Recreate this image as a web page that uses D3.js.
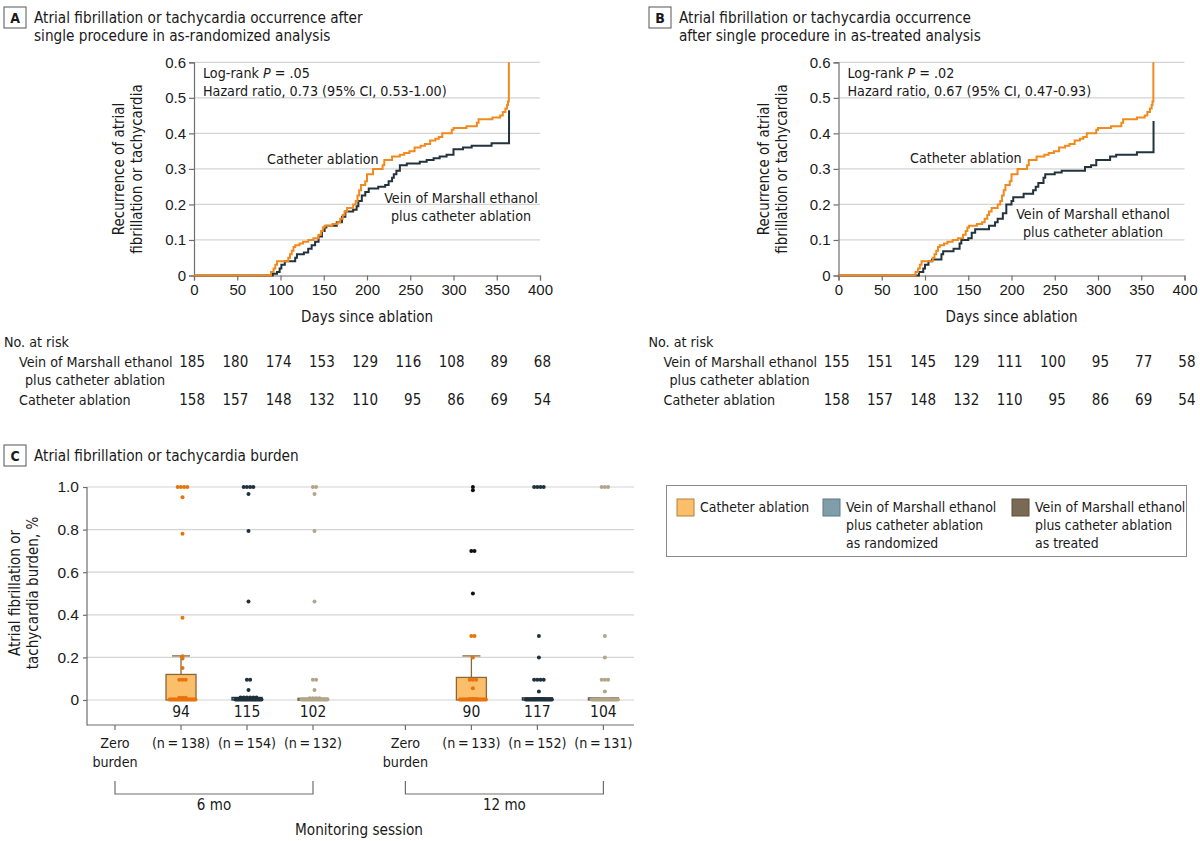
<!DOCTYPE html>
<html><head><meta charset="utf-8">
<script src="https://cdn.jsdelivr.net/npm/d3@7"></script>
<style>
html,body{margin:0;padding:0;background:#fff;}
svg{display:block;font-family:"DejaVu Sans Condensed","Liberation Sans Narrow","Noto Sans",sans-serif;fill:#1a1a1a;}
</style></head>
<body>
<svg id="chart" width="1200" height="841"></svg>
<script>
// ---------------- DATA ----------------
const kmTicksX = [0,50,100,150,200,250,300,350,400];
const kmTicksY = [0,0.1,0.2,0.3,0.4,0.5,0.6];
const riskDays = [0,50,100,150,200,250,300,350,400];

// step points [day, cumulative incidence]
const cathSteps = [[0,0],[89,0.01],[92,0.02],[94,0.03],[96,0.04],[109,0.05],[111,0.06],[113,0.07],[115,0.08],[117,0.085],[122,0.09],[126,0.095],[132,0.1],[138,0.105],[144,0.115],[147,0.125],[149,0.135],[151,0.14],[160,0.145],[166,0.15],[169,0.16],[172,0.17],[174,0.18],[177,0.19],[184,0.2],[187,0.21],[189,0.225],[191,0.24],[193,0.255],[198,0.265],[200,0.285],[207,0.3],[218,0.31],[220,0.325],[229,0.335],[238,0.34],[243,0.345],[249,0.35],[255,0.36],[262,0.365],[267,0.37],[273,0.38],[279,0.385],[283,0.39],[287,0.4],[298,0.41],[300,0.415],[315,0.42],[327,0.43],[329,0.44],[345,0.445],[354,0.45],[357,0.46],[360,0.47],[362,0.48],[363,0.49],[364,0.6]];
const vomRandSteps = [[0,0],[91,0.005],[96,0.01],[99,0.02],[101,0.03],[105,0.04],[117,0.05],[119,0.06],[127,0.065],[132,0.075],[136,0.085],[140,0.095],[144,0.11],[148,0.125],[151,0.135],[153,0.14],[165,0.15],[171,0.165],[175,0.18],[184,0.185],[188,0.195],[190,0.21],[194,0.225],[198,0.235],[202,0.245],[213,0.25],[221,0.255],[225,0.265],[229,0.275],[231,0.285],[234,0.295],[238,0.31],[246,0.315],[261,0.32],[269,0.325],[277,0.33],[284,0.335],[292,0.34],[300,0.355],[311,0.36],[321,0.365],[344,0.372],[364,0.372],[364.2,0.465]];
const vomTreatSteps = [[0,0],[93,0.01],[98,0.02],[100,0.03],[104,0.04],[108,0.045],[119,0.06],[121,0.068],[133,0.075],[140,0.09],[142,0.1],[150,0.105],[154,0.12],[158,0.13],[174,0.14],[181,0.15],[184,0.16],[190,0.175],[194,0.2],[200,0.21],[202,0.22],[214,0.23],[225,0.24],[228,0.25],[231,0.26],[237,0.275],[239,0.285],[250,0.29],[258,0.295],[285,0.305],[292,0.31],[298,0.325],[314,0.335],[321,0.34],[345,0.347],[364,0.347],[364.2,0.435]];

const riskA_vom = [185,180,174,153,129,116,108,89,68];
const riskA_cath = [158,157,148,132,110,95,86,69,54];
const riskB_vom = [155,151,145,129,111,100,95,77,58];
const riskB_cath = [158,157,148,132,110,95,86,69,54];

// Panel C
const burdenTicks = [0,0.2,0.4,0.6,0.8,1.0];
const burdenTickLabels = ["0","0.2","0.4","0.6","0.8","1.0"];
const catLabels = ["Zero|burden","(n\u2009=\u2009138)","(n\u2009=\u2009154)","(n\u2009=\u2009132)","Zero|burden","(n\u2009=\u2009133)","(n\u2009=\u2009152)","(n\u2009=\u2009131)"];
const catSlots = [0,1,2,3,4.4,5.4,6.4,7.4];
const zeroCounts = [null,"94","115","102",null,"90","117","104"];
// [value, number of dots]
const cath6 = [[1.0,4],[0.952,1],[0.78,1],[0.386,1],[0.205,1],[0.195,1],[0.15,1],[0.095,3],[0.01,3],[0,22]];
const vomr6 = [[1.0,4],[0.967,1],[0.794,1],[0.463,1],[0.095,2],[0.047,1],[0.012,6],[0,22]];
const vomt6 = [[1.0,2],[0.967,1],[0.794,1],[0.463,1],[0.095,2],[0.047,1],[0.008,4],[0,22]];
const cath12 = [[0.3,2],[0.2,1],[0.095,3],[0.055,1],[0.005,3],[0,22]];
const cath12dark = [[1.0,1],[0.985,1],[0.7,2],[0.5,1]];
const vomr12 = [[1.0,4],[0.3,1],[0.2,1],[0.095,4],[0.04,1],[0.005,4],[0,22]];
const vomt12 = [[1.0,3],[0.3,1],[0.2,1],[0.095,3],[0.04,1],[0.005,3],[0,22]];
// box summaries: category index, q1, median, q3, upper whisker
const boxStats = [
  {c:1,q1:0,med:0,q3:0.12,hi:0.207,k:"cath"},
  {c:2,q1:0,med:0,q3:0.012,hi:null,k:"vomr"},
  {c:3,q1:0,med:0,q3:0.008,hi:null,k:"vomt"},
  {c:5,q1:0,med:0,q3:0.106,hi:0.207,k:"cath"},
  {c:6,q1:0,med:0,q3:0.01,hi:null,k:"vomr"},
  {c:7,q1:0,med:0,q3:0.01,hi:null,k:"vomt"}
];
const legendItems = [
  {k:"cath", lines:["Catheter ablation"]},
  {k:"vomr", lines:["Vein of Marshall ethanol","plus catheter ablation","as randomized"]},
  {k:"vomt", lines:["Vein of Marshall ethanol","plus catheter ablation","as treated"]}
];

// ---------------- STYLE ----------------
const C = {
  orange:"#f08a1d", dark:"#22333e", grid:"#d4d4d4", axis:"#6e6e6e",
  boxFill:{cath:"#fbbe69",vomr:"#7f9ea9",vomt:"#b6a88c"},
  boxStroke:{cath:"#8a6838",vomr:"#22333e",vomt:"#6f624e"},
  dot:{cath:"#e8730c",vomr:"#1e313d",vomt:"#b3a589",darkCath:"#111111"},
  swatch:{cath:"#fbbe69",vomr:"#7f9ea9",vomt:"#7a6a55"},
  swStroke:{cath:"#b08040",vomr:"#5d7a85",vomt:"#5c4f3d"}
};
const FS = {title:15.2, text:14.2, tick:15, axisTitle:15, cat:14.2, legend:13.9};
const svg = d3.select("#chart");

function panelTitle(x, y, letter, lines){
  svg.append("rect").attr("x",x).attr("y",y).attr("width",22).attr("height",21)
    .attr("fill","#fff").attr("stroke","#555").attr("stroke-width",1);
  svg.append("text").attr("x",x+11).attr("y",y+16).attr("text-anchor","middle")
    .attr("font-size",14).attr("font-weight","bold").text(letter);
  lines.forEach((t,i)=>svg.append("text").attr("x",x+30).attr("y",y+15.5+i*18.5)
    .attr("font-size",FS.title).text(t));
}

function kmPanel(opt){
  const x = d3.scaleLinear().domain([0,400]).range([opt.x0, opt.x0+346]);
  const y = d3.scaleLinear().domain([0,0.6]).range([275.5, 62.3]);
  const g = svg.append("g");
  // grid
  g.selectAll(".gr").data(kmTicksY.filter(d=>d>0)).join("line")
    .attr("x1",x(0)).attr("x2",x(400)).attr("y1",d=>y(d)).attr("y2",d=>y(d))
    .attr("stroke",C.grid).attr("stroke-width",1.2);
  // axes
  const ax = g.append("g").attr("transform",`translate(0,${y(0)})`)
    .call(d3.axisBottom(x).tickValues(kmTicksX).tickSize(5).tickPadding(4).tickFormat(d3.format("d")));
  const ay = g.append("g").attr("transform",`translate(${x(0)},0)`)
    .call(d3.axisLeft(y).tickValues(kmTicksY).tickSize(5).tickPadding(3).tickFormat(d=>d===0?"0":d3.format(".1f")(d)));
  [ax,ay].forEach(a=>{
    a.select(".domain").attr("stroke",C.axis).attr("stroke-width",1.2);
    a.selectAll(".tick line").attr("stroke",C.axis).attr("stroke-width",1.2);
    a.selectAll(".tick text").attr("font-size",FS.tick).attr("fill","#1a1a1a").attr("font-family",null);
  });
  // curves
  const line = d3.line().x(d=>x(d[0])).y(d=>y(d[1])).curve(d3.curveStepAfter);
  g.append("path").datum(opt.vom).attr("d",line).attr("fill","none").attr("stroke",C.dark).attr("stroke-width",2);
  g.append("path").datum(cathSteps).attr("d",line).attr("fill","none").attr("stroke",C.orange).attr("stroke-width",2);
  // annotations
  const t1 = g.append("text").attr("x",x(0)+9).attr("y",78).attr("font-size",FS.text);
  t1.append("tspan").text("Log-rank ");
  t1.append("tspan").attr("font-style","italic").text("P");
  t1.append("tspan").text(" = "+opt.p);
  g.append("text").attr("x",x(0)+9).attr("y",96).attr("font-size",FS.text).text(opt.hr);
  g.append("text").attr("x",opt.cathLbl[0]).attr("y",opt.cathLbl[1]).attr("font-size",FS.text).text("Catheter ablation");
  g.append("text").attr("x",opt.vomLbl[0]).attr("y",opt.vomLbl[1]).attr("font-size",FS.text).attr("text-anchor","middle").text("Vein of Marshall ethanol");
  g.append("text").attr("x",opt.vomLbl[0]).attr("y",opt.vomLbl[1]+18).attr("font-size",FS.text).attr("text-anchor","middle").text("plus catheter ablation");
  // y label
  const yl = g.append("text").attr("transform",`translate(${x(0)-70},169) rotate(-90)`).attr("text-anchor","middle").attr("font-size",FS.axisTitle);
  yl.append("tspan").attr("x",0).attr("y",0).text("Recurrence of atrial");
  yl.append("tspan").attr("x",0).attr("y",18).text("fibrillation or tachycardia");
  g.append("text").attr("x",x(200)).attr("y",322).attr("text-anchor","middle").attr("font-size",FS.axisTitle).text("Days since ablation");
  // number at risk
  const lx = opt.x0-190;
  g.append("text").attr("x",lx).attr("y",347).attr("font-size",FS.text).text("No. at risk");
  g.append("text").attr("x",lx+15).attr("y",367).attr("font-size",FS.text).text("Vein of Marshall ethanol");
  g.append("text").attr("x",lx+21).attr("y",385).attr("font-size",FS.text).text("plus catheter ablation");
  g.append("text").attr("x",lx+15).attr("y",405).attr("font-size",FS.text).text("Catheter ablation");
  g.selectAll(".r1").data(opt.riskVom).join("text").attr("x",(d,i)=>x(riskDays[i])+11).attr("y",367)
    .attr("text-anchor","end").attr("font-size",FS.tick).text(d=>d);
  g.selectAll(".r2").data(opt.riskCath).join("text").attr("x",(d,i)=>x(riskDays[i])+11).attr("y",405)
    .attr("text-anchor","end").attr("font-size",FS.tick).text(d=>d);
}

panelTitle(4,7,"A",["Atrial fibrillation or tachycardia occurrence after","single procedure in as-randomized analysis"]);
panelTitle(649,7,"B",["Atrial fibrillation or tachycardia occurrence","after single procedure in as-treated analysis"]);

kmPanel({x0:194, vom:vomRandSteps, p:".05", hr:"Hazard ratio, 0.73 (95% CI, 0.53-1.00)",
  cathLbl:[267,164], vomLbl:[461,203], riskVom:riskA_vom, riskCath:riskA_cath});
kmPanel({x0:838.5, vom:vomTreatSteps, p:".02", hr:"Hazard ratio, 0.67 (95% CI, 0.47-0.93)",
  cathLbl:[910,163], vomLbl:[1093,219], riskVom:riskB_vom, riskCath:riskB_cath});

// ---------------- PANEL C ----------------
panelTitle(4,445,"C",["Atrial fibrillation or tachycardia burden"]);
const xc = d3.scaleLinear().domain([0,1]).range([115,181]);
const yc = d3.scaleLinear().domain([0,1]).range([700,487]);
const gc = svg.append("g");
gc.selectAll(".gc").data(burdenTicks).join("line")
  .attr("x1",87).attr("x2",634).attr("y1",d=>yc(d)).attr("y2",d=>yc(d))
  .attr("stroke",C.grid).attr("stroke-width",1.2);
const ayc = gc.append("g").attr("transform","translate(87,0)")
  .call(d3.axisLeft(yc).tickValues(burdenTicks).tickSize(4).tickPadding(4).tickFormat((d,i)=>burdenTickLabels[i]));
ayc.select(".domain").remove();
ayc.selectAll(".tick line").attr("stroke",C.axis).attr("stroke-width",1.2);
ayc.selectAll(".tick text").attr("font-size",15.5).attr("fill","#1a1a1a").attr("font-family",null);
gc.append("line").attr("x1",87).attr("x2",87).attr("y1",yc(1)).attr("y2",725.5).attr("stroke",C.axis).attr("stroke-width",1.2);
gc.append("line").attr("x1",87).attr("x2",634).attr("y1",725).attr("y2",725).attr("stroke",C.axis).attr("stroke-width",1.2);
gc.selectAll(".ct").data(catSlots).join("line").attr("x1",d=>xc(d)).attr("x2",d=>xc(d)).attr("y1",725).attr("y2",730)
  .attr("stroke",C.axis).attr("stroke-width",1.2);
// category labels
catLabels.forEach((lab,i)=>{
  lab.split("|").forEach((t,j)=>gc.append("text").attr("x",xc(catSlots[i])).attr("y",748+j*19)
    .attr("text-anchor","middle").attr("font-size",FS.cat).text(t));
  if(zeroCounts[i]) gc.append("text").attr("x",xc(catSlots[i])).attr("y",717).attr("text-anchor","middle").attr("font-size",15.5).text(zeroCounts[i]);
});
// boxes
const bw = 30;
boxStats.forEach(b=>{
  const cx = xc(catSlots[b.c]);
  if(b.hi!==null){
    gc.append("line").attr("x1",cx).attr("x2",cx).attr("y1",yc(b.q3)).attr("y2",yc(b.hi)).attr("stroke",C.boxStroke[b.k]).attr("stroke-width",1.3);
    gc.append("line").attr("x1",cx-9).attr("x2",cx+9).attr("y1",yc(b.hi)).attr("y2",yc(b.hi)).attr("stroke",C.boxStroke[b.k]).attr("stroke-width",1.3);
  }
  gc.append("rect").attr("x",cx-bw/2).attr("y",yc(b.q3)).attr("width",bw).attr("height",Math.max(yc(b.q1)-yc(b.q3),2))
    .attr("fill",C.boxFill[b.k]).attr("stroke",C.boxStroke[b.k]).attr("stroke-width",1.3);
});
// dots
function dots(data, slot, color){
  const cx = xc(slot)+1.5;
  const pts = [];
  data.forEach(([v,n])=>{
    let sp = 3.2;
    if((n-1)*sp>26) sp = 26/(n-1);
    for(let i=0;i<n;i++) pts.push({v, dx:(i-(n-1)/2)*sp});
  });
  gc.selectAll(null).data(pts).join("circle").attr("cx",d=>cx+d.dx).attr("cy",d=>yc(d.v)-(d.v===0?0.5:0)).attr("r",2).attr("fill",color);
}
dots(cath6,catSlots[1],C.dot.cath);
dots(vomr6,catSlots[2],C.dot.vomr);
dots(vomt6,catSlots[3],C.dot.vomt);
dots(cath12,catSlots[5],C.dot.cath);
dots(cath12dark,catSlots[5],C.dot.darkCath);
dots(vomr12,catSlots[6],C.dot.vomr);
dots(vomt12,catSlots[7],C.dot.vomt);
// y label
const ylc = gc.append("text").attr("transform","translate(15,593) rotate(-90)").attr("text-anchor","middle").attr("font-size",15);
ylc.append("tspan").attr("x",0).attr("y",0).attr("dy","0.35em").text("Atrial fibrillation or");
ylc.append("tspan").attr("x",0).attr("y",18).attr("dy","0.35em").text("tachycardia burden, %");
// brackets
[[0,3,"6 mo"],[4,7,"12 mo"]].forEach(([a,b,t])=>{
  const x1 = xc(catSlots[a]), x2 = xc(catSlots[b]);
  gc.append("path").attr("d",`M${x1},781V794H${x2}V781`).attr("fill","none").attr("stroke",C.axis).attr("stroke-width",1.2);
  gc.append("text").attr("x",(x1+x2)/2).attr("y",810).attr("text-anchor","middle").attr("font-size",15).text(t);
});
gc.append("text").attr("x",359).attr("y",835).attr("text-anchor","middle").attr("font-size",15.2).text("Monitoring session");

// legend
const lg = svg.append("g");
lg.append("rect").attr("x",666.5).attr("y",485.5).attr("width",520).attr("height",71).attr("fill","#fff").attr("stroke","#8a8a8a").attr("stroke-width",1);
const legX = [677,823,1012];
legendItems.forEach((it,i)=>{
  lg.append("rect").attr("x",legX[i]).attr("y",499).attr("width",17).attr("height",17)
    .attr("fill",C.swatch[it.k]).attr("stroke",C.swStroke[it.k]).attr("stroke-width",1);
  it.lines.forEach((t,j)=>lg.append("text").attr("x",legX[i]+23).attr("y",512+j*18).attr("font-size",FS.legend).text(t));
});
</script>
</body></html>
